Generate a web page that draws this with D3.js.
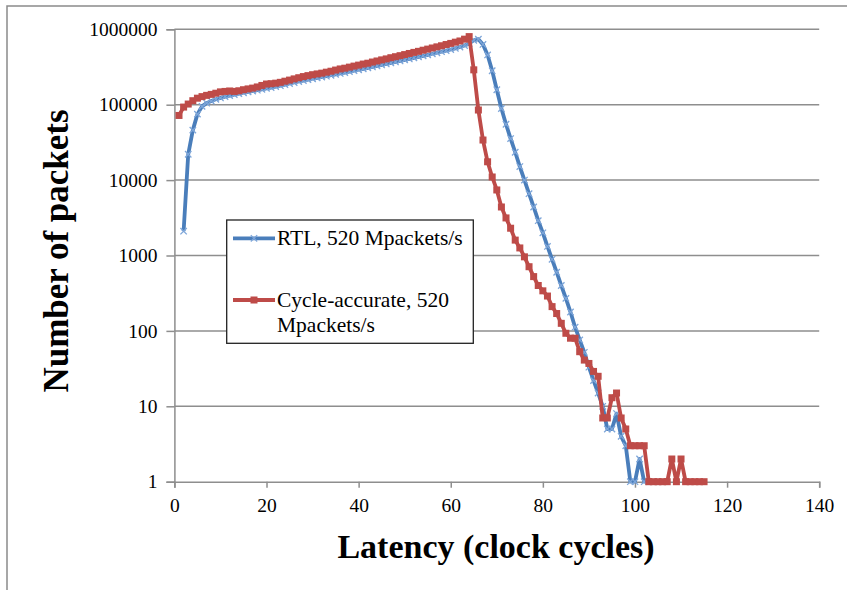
<!DOCTYPE html>
<html><head><meta charset="utf-8">
<script src="https://cdn.jsdelivr.net/npm/d3@7"></script>
<style>body{margin:0;background:#fff} svg{display:block}</style>
</head><body>
<svg id="c" width="847" height="590"></svg>
<script>
const rtlLatency = [2,3,4,5,6,7,8,9,10,11,12,13,14,15,16,17,18,19,20,21,22,23,24,25,26,27,28,29,30,31,32,33,34,35,36,37,38,39,40,41,42,43,44,45,46,47,48,49,50,51,52,53,54,55,56,57,58,59,60,61,62,63,64,65,66,67,68,69,70,71,72,73,74,75,76,77,78,79,80,81,82,83,84,85,86,87,88,89,90,91,92,93,94,95,96,97,98,99,100,101,102,103,104,105,106];
const rtlPackets = [2100,22000,46000,75000,95000,105000,112000,118000,123000,128000,132000,136000,140000,144000,148000,152000,156000,160000,165000,169000,174000,179000,185000,191000,197000,203000,209000,215000,221000,227000,233000,239000,246000,253000,260000,267000,275000,283000,291000,299000,308000,317000,327000,337000,347000,358000,369000,381000,393000,405000,418000,431000,445000,459000,474000,489000,505000,522000,540000,560000,582000,610000,650000,715000,740000,630000,457000,282000,158000,89000,55000,35500,23400,15100,10000,6600,4400,2900,2000,1320,890,600,400,270,178,112,76,52,33,22,15,10,5,5,8,4,3,1,1,2,1,1,1,1,1];
const caLatency = [1,2,3,4,5,6,7,8,9,10,11,12,13,14,15,16,17,18,19,20,21,22,23,24,25,26,27,28,29,30,31,32,33,34,35,36,37,38,39,40,41,42,43,44,45,46,47,48,49,50,51,52,53,54,55,56,57,58,59,60,61,62,63,64,65,66,67,68,69,70,71,72,73,74,75,76,77,78,79,80,81,82,83,84,85,86,87,88,89,90,91,92,93,94,95,96,97,98,99,100,101,102,103,104,105,106,107,108,109,110,111,112,113,114,115];
const caPackets = [72000,93000,102000,113000,122000,128000,133000,137000,142000,148000,150000,152000,150000,153000,158000,162000,166000,172000,180000,188000,190000,193000,198000,205000,212000,220000,228000,236000,243000,250000,256000,262000,270000,278000,288000,298000,305000,315000,325000,335000,346000,355000,368000,380000,393000,405000,420000,433000,447000,462000,478000,494000,510000,528000,546000,565000,585000,605000,628000,650000,675000,700000,740000,800000,290000,85000,34000,17500,11000,7400,4400,3150,2300,1600,1260,960,710,525,400,340,290,210,170,126,93,80,80,53,41,37,29,25,7,7,13,15,7,5,3,3,3,3,1,1,1,1,1,2,1,2,1,1,1,1,1];
const xTicks = [0,20,40,60,80,100,120,140];
const yTicks = [1,10,100,1000,10000,100000,1000000];
const seriesNames = ["RTL, 520 Mpackets/s", ["Cycle-accurate, 520", "Mpackets/s"]];
const xTitle = "Latency (clock cycles)";
const yTitle = "Number of packets";

const blue = "#4A7EBB", blueMk = "#7EA6D9", red = "#BE4B48", grid = "#8E8E8E";
const serif = "'Liberation Serif', 'Times New Roman', serif";

const svg = d3.select("#c");
svg.append("rect").attr("x",7).attr("y",6).attr("width",860).attr("height",620)
  .attr("fill","#fff").attr("stroke","#8a8a8a").attr("stroke-width",1.5);

const x = d3.scaleLinear().domain([0,140]).range([174.4, 819.2]);
const y = d3.scaleLog().domain([1,1e6]).range([481.7, 29.3]);

// gridlines
svg.append("g").selectAll("line").data(yTicks.slice(1)).join("line")
  .attr("x1", x(0)).attr("x2", x(140)).attr("y1", d=>y(d)).attr("y2", d=>y(d))
  .attr("stroke", grid).attr("stroke-width",1.5);

const yAxis = svg.append("g").attr("transform",`translate(${x(0)},0)`)
  .call(d3.axisLeft(y).tickValues(yTicks).tickFormat(d3.format("d")).tickSize(8).tickPadding(9));
const xAxis = svg.append("g").attr("transform",`translate(0,${y(1)})`)
  .call(d3.axisBottom(x).tickValues(xTicks).tickSize(6).tickPadding(10));
[yAxis,xAxis].forEach(a=>{
  a.selectAll("path,line").attr("stroke",grid).attr("stroke-width",1.5);
  a.selectAll("text").attr("font-family",serif).attr("font-size",19.5).attr("fill","#000");
});

const rtl = rtlLatency.map((d,i)=>({x:d,y:rtlPackets[i]}));
const ca = caLatency.map((d,i)=>({x:d,y:caPackets[i]}));
const line = d3.line().x(d=>x(d.x)).y(d=>y(d.y));

function xMark(g, cx, cy){
  const s=3.2;
  g.append("path").attr("d",`M${cx-s},${cy-s}L${cx+s},${cy+s}M${cx-s},${cy+s}L${cx+s},${cy-s}`)
    .attr("stroke",blueMk).attr("stroke-width",1.3).attr("fill","none");
}

const gB = svg.append("g");
gB.append("path").datum(rtl).attr("d",line).attr("fill","none").attr("stroke",blue).attr("stroke-width",3.8).attr("stroke-linejoin","round");
rtl.forEach(d=>xMark(gB, x(d.x), y(d.y)));

const gR = svg.append("g");
gR.append("path").datum(ca).attr("d",line).attr("fill","none").attr("stroke",red).attr("stroke-width",3.8).attr("stroke-linejoin","round");
gR.selectAll("rect").data(ca).join("rect")
  .attr("x",d=>x(d.x)-3.5).attr("y",d=>y(d.y)-3.5).attr("width",7).attr("height",7).attr("fill",red);

// legend
const lg = svg.append("g");
lg.append("rect").attr("x",226.7).attr("y",220).attr("width",246.6).attr("height",123.3)
  .attr("fill","#fff").attr("stroke","#222").attr("stroke-width",1.3);
lg.append("line").attr("x1",233).attr("x2",275).attr("y1",238.3).attr("y2",238.3).attr("stroke",blue).attr("stroke-width",3.8);
xMark(lg,254,238.3);
const lgFont = 21.5;
lg.append("text").attr("x",277).attr("y",245).attr("font-family",serif).attr("font-size",lgFont).text(seriesNames[0]);
lg.append("line").attr("x1",233).attr("x2",275).attr("y1",300).attr("y2",300).attr("stroke",red).attr("stroke-width",3.8);
lg.append("rect").attr("x",250.5).attr("y",296.5).attr("width",7).attr("height",7).attr("fill",red);
lg.append("text").attr("x",277).attr("y",307).attr("font-family",serif).attr("font-size",lgFont).text(seriesNames[1][0]);
lg.append("text").attr("x",277).attr("y",332).attr("font-family",serif).attr("font-size",lgFont).text(seriesNames[1][1]);

// titles
svg.append("text").attr("x",496).attr("y",558).attr("text-anchor","middle")
  .attr("font-family",serif).attr("font-weight","bold").attr("font-size",34).text(xTitle);
svg.append("text").attr("transform","translate(68,251) rotate(-90)").attr("text-anchor","middle")
  .attr("font-family",serif).attr("font-weight","bold").attr("font-size",35).text(yTitle);
</script>
</body></html>
